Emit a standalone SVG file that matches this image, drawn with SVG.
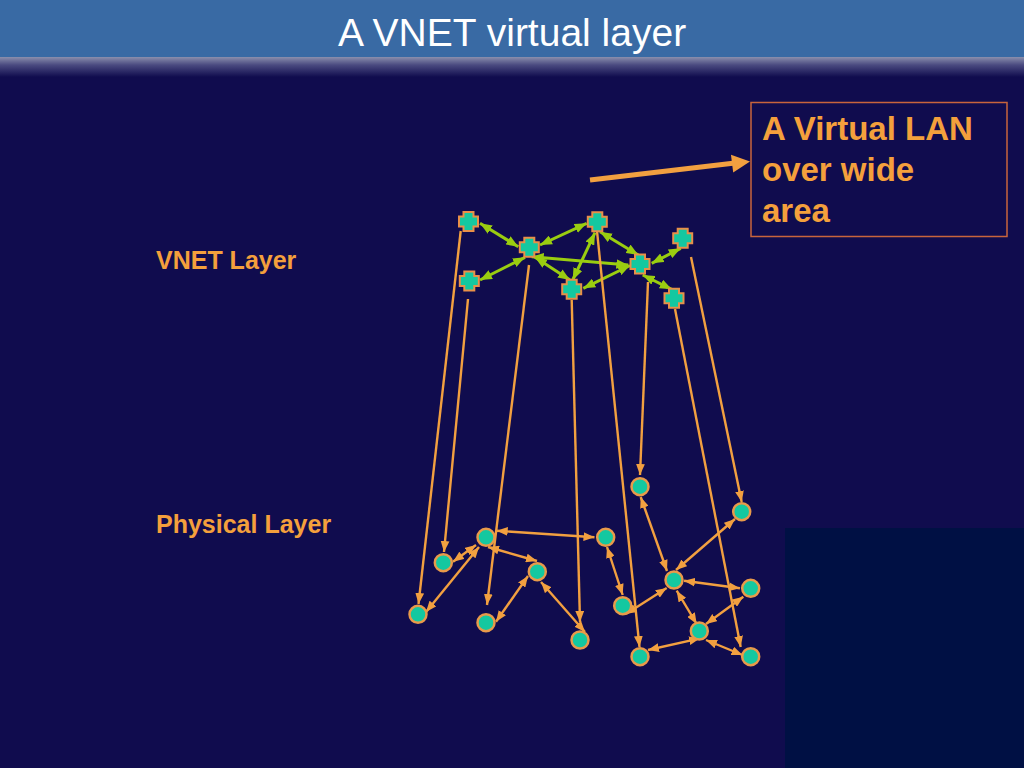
<svg xmlns="http://www.w3.org/2000/svg" width="1024" height="768" viewBox="0 0 1024 768">
<defs>
<linearGradient id="shade" x1="0" y1="0" x2="0" y2="1">
<stop offset="0" stop-color="#8a8fad"/>
<stop offset="0.4" stop-color="#4a4a80"/>
<stop offset="1" stop-color="#100c4e"/>
</linearGradient>
<marker id="ao" viewBox="0 0 10 8" markerWidth="11" markerHeight="9" markerUnits="userSpaceOnUse" refX="10" refY="4" orient="auto-start-reverse">
<path d="M0,0 L10,4 L0,8 Z" fill="#f2a040"/>
</marker>
<marker id="ag" viewBox="0 0 10 8" markerWidth="12" markerHeight="10" markerUnits="userSpaceOnUse" refX="10" refY="4" orient="auto-start-reverse">
<path d="M0,0 L10,4 L0,8 Z" fill="#9acd10"/>
</marker>
<path id="plus" d="M-5,-9.5 H5 V-5 H9.5 V5 H5 V9.5 H-5 V5 H-9.5 V-5 H-5 Z"/>
</defs>
<style>
.bg{fill:#100c4e}
.title{font-family:"Liberation Sans",Arial,sans-serif;font-size:39px;fill:#ffffff}
.lbl{font-family:"Liberation Sans",Arial,sans-serif;font-size:25px;font-weight:bold;fill:#f4a03c}
.box{font-family:"Liberation Sans",Arial,sans-serif;font-size:33px;font-weight:bold;fill:#f4a03c}
.pn{fill:#14c8a0;stroke:#e89a4a;stroke-width:2.5}
.vn{fill:#14c8a0;stroke:#e89048;stroke-width:2}
.eo{stroke:#f2a040;stroke-width:2.4;fill:none}
.bi{marker-start:url(#ao);marker-end:url(#ao)}
.one{marker-end:url(#ao)}
.eg{stroke:#9acd10;stroke-width:3;fill:none;marker-start:url(#ag);marker-end:url(#ag)}
</style>
<rect class="bg" x="0" y="0" width="1024" height="768"/>
<rect x="785" y="528" width="239" height="240" fill="#001044"/>
<rect x="0" y="0" width="1024" height="57" fill="#396aa4"/>
<rect x="0" y="57" width="1024" height="20" fill="url(#shade)"/>
<text class="title" x="512" y="46" text-anchor="middle">A VNET virtual layer</text>

<text class="lbl" x="156" y="269">VNET Layer</text>
<text class="lbl" x="156" y="533">Physical Layer</text>

<g id="callout">
<rect x="751" y="102.5" width="256" height="134" fill="none" stroke="#c8643c" stroke-width="1.5"/>
<text class="box" x="762" y="140">A Virtual LAN</text>
<text class="box" x="762" y="181">over wide</text>
<text class="box" x="762" y="222">area</text>
<line x1="590" y1="180" x2="735" y2="163" stroke="#f2a040" stroke-width="5"/>
<polygon points="750,161.5 733.2,172.5 731,154.7" fill="#f2a040"/>
</g>

<g id="connectors">
<g id="vnet-edges">
<line class="eg" x1="480" y1="223.3" x2="518.3" y2="246.7"/>
<line class="eg" x1="540" y1="245" x2="586.7" y2="223.3"/>
<line class="eg" x1="525" y1="257.3" x2="480" y2="280"/>
<line class="eg" x1="535" y1="257.3" x2="570" y2="280"/>
<line class="eg" x1="531.7" y1="256.7" x2="628.3" y2="265"/>
<line class="eg" x1="595" y1="232.7" x2="572.7" y2="280"/>
<line class="eg" x1="600" y1="231.7" x2="638.3" y2="255"/>
<line class="eg" x1="680.7" y1="248.3" x2="651.7" y2="263.3"/>
<line class="eg" x1="583.3" y1="288.3" x2="630" y2="265.5"/>
<line class="eg" x1="642.7" y1="275" x2="671.7" y2="289.3"/>
</g>
<g id="mapping">
<line class="eo one" x1="460.7" y1="231" x2="418.5" y2="604"/>
<line class="eo one" x1="468" y1="299" x2="444" y2="552"/>
<line class="eo one" x1="529" y1="265" x2="487" y2="605"/>
<line class="eo one" x1="571.7" y1="300" x2="580" y2="622"/>
<line class="eo one" x1="597" y1="231" x2="639.5" y2="647"/>
<line class="eo one" x1="648" y1="282" x2="640" y2="475"/>
<line class="eo one" x1="675" y1="309" x2="740.7" y2="647"/>
<line class="eo one" x1="691" y1="257" x2="741.7" y2="502"/>
</g>
<g id="phys-edges">
<line class="eo bi" x1="496.7" y1="530.7" x2="594.5" y2="537.3"/>
<line class="eo bi" x1="476" y1="545" x2="453" y2="561.7"/>
<line class="eo bi" x1="479" y1="547" x2="426" y2="612"/>
<line class="eo bi" x1="488" y1="547" x2="537" y2="561"/>
<line class="eo bi" x1="528" y1="576" x2="496" y2="621.7"/>
<line class="eo bi" x1="541" y1="582" x2="585" y2="632"/>
<line class="eo bi" x1="607" y1="547" x2="622.7" y2="595"/>
<line class="eo bi" x1="626" y1="614" x2="666.7" y2="588"/>
<line class="eo bi" x1="640.7" y1="497" x2="667" y2="571"/>
<line class="eo bi" x1="735" y1="519" x2="676" y2="570"/>
<line class="eo bi" x1="684" y1="580.7" x2="740" y2="588.3"/>
<line class="eo bi" x1="676.7" y1="590.7" x2="696.7" y2="624"/>
<line class="eo bi" x1="743.3" y1="596.7" x2="706" y2="624"/>
<line class="eo bi" x1="700" y1="638.3" x2="648" y2="650"/>
<line class="eo bi" x1="706" y1="640" x2="742.5" y2="655"/>
</g>
</g>

<g id="vnet-nodes">
<g id="v1" transform="translate(468.5,221.5)"><use href="#plus" class="vn"/></g>
<g id="v2" transform="translate(529.3,247.3)"><use href="#plus" class="vn"/></g>
<g id="v3" transform="translate(597.3,221.7)"><use href="#plus" class="vn"/></g>
<g id="v4" transform="translate(682.7,238.3)"><use href="#plus" class="vn"/></g>
<g id="v5" transform="translate(469.3,281)"><use href="#plus" class="vn"/></g>
<g id="v6" transform="translate(571.7,289.3)"><use href="#plus" class="vn"/></g>
<g id="v7" transform="translate(640,264)"><use href="#plus" class="vn"/></g>
<g id="v8" transform="translate(674,298.3)"><use href="#plus" class="vn"/></g>
</g>

<g id="phys-nodes">
<g id="p1"><circle class="pn" cx="418" cy="614.3" r="8.5"/></g>
<g id="p2"><circle class="pn" cx="443.3" cy="562.7" r="8.5"/></g>
<g id="p3"><circle class="pn" cx="486" cy="537.3" r="8.5"/></g>
<g id="p4"><circle class="pn" cx="486" cy="622.7" r="8.5"/></g>
<g id="p5"><circle class="pn" cx="537.3" cy="571.7" r="8.5"/></g>
<g id="p6"><circle class="pn" cx="580" cy="640" r="8.5"/></g>
<g id="p7"><circle class="pn" cx="605.7" cy="537.3" r="8.5"/></g>
<g id="p8"><circle class="pn" cx="622.7" cy="605.7" r="8.5"/></g>
<g id="p9"><circle class="pn" cx="640" cy="486.7" r="8.5"/></g>
<g id="p10"><circle class="pn" cx="741.7" cy="511.7" r="8.5"/></g>
<g id="p11"><circle class="pn" cx="674" cy="580" r="8.5"/></g>
<g id="p12"><circle class="pn" cx="750.7" cy="588.3" r="8.5"/></g>
<g id="p13"><circle class="pn" cx="699.3" cy="631" r="8.5"/></g>
<g id="p14"><circle class="pn" cx="640" cy="656.7" r="8.5"/></g>
<g id="p15"><circle class="pn" cx="750.7" cy="656.7" r="8.5"/></g>
</g>
</svg>
